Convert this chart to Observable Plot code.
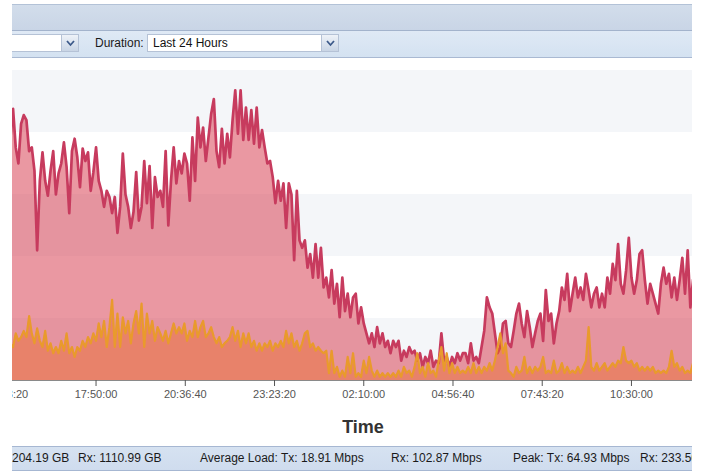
<!DOCTYPE html>
<html><head><meta charset="utf-8">
<script src="https://cdn.jsdelivr.net/npm/d3@7"></script>
<script src="https://cdn.jsdelivr.net/npm/@observablehq/plot@0.6"></script>
<style>
html,body{margin:0;padding:0;background:#fff;width:706px;height:473px;overflow:hidden;font-family:"Liberation Sans",Arial,sans-serif;}
#clip{position:absolute;left:12px;top:0;width:680px;height:473px;overflow:hidden;}
#page{position:absolute;left:-12px;top:0;width:706px;height:473px;}
#header{position:absolute;left:0;top:4px;width:706px;height:25px;background:linear-gradient(#d2ddeb,#c9d5e6);border-top:1px solid #b3c2d7;border-bottom:1px solid #a3b3cc;}
#toolbar{position:absolute;left:0;top:31px;width:706px;height:26px;background:linear-gradient(#dfe9f5,#d4e2f1);border-bottom:1px solid #a9b9d2;}
.combo{position:absolute;top:3px;height:18px;background:#fff;border:1px solid #b5c2d6;box-sizing:border-box;font-size:12px;line-height:16px;color:#111;padding-left:5px;}
.trig{position:absolute;top:3px;width:18px;height:18px;box-sizing:border-box;border:1px solid #b5c2d6;background:linear-gradient(#eef2f8,#c9d5e5);}
.trig svg{position:absolute;left:4px;top:5px;}
#dur{position:absolute;left:95px;top:3px;line-height:18px;font-size:12px;color:#1a1a1a;}
#chart{position:absolute;left:-100px;top:62px;}
#xlabel{position:absolute;left:0;width:726px;top:417px;text-align:center;font-weight:bold;font-size:18px;line-height:20px;color:#333;}
#status{position:absolute;left:0;top:446px;width:706px;height:23px;background:linear-gradient(#d6e2f1,#cfdcee);border-top:1px solid #a6b7d2;border-bottom:1px solid #a6b7d2;font-size:12px;color:#1a1a1a;}
#status span{position:absolute;top:0;line-height:23px;white-space:nowrap;}
</style></head>
<body>
<div id="clip"><div id="page">
  <div id="header"></div>
  <div id="toolbar">
    <div class="combo" style="left:0;width:62px;"></div>
    <div class="trig" style="left:61px;"><svg width="9" height="7"><polyline points="1,1 4.5,5 8,1" fill="none" stroke="#3c5a8a" stroke-width="1.8"/></svg></div>
    <div id="dur">Duration:</div>
    <div class="combo" style="left:147px;width:175px;">Last 24 Hours</div>
    <div class="trig" style="left:321px;"><svg width="9" height="7"><polyline points="1,1 4.5,5 8,1" fill="none" stroke="#3c5a8a" stroke-width="1.8"/></svg></div>
  </div>
  <div id="chart"></div>
  <div id="xlabel">Time</div>
  <div id="status">
    <span style="left:12px">204.19 GB</span>
    <span style="left:78px">Rx: 1110.99 GB</span>
    <span style="left:200px">Average Load: Tx: 18.91 Mbps</span>
    <span style="left:391px">Rx: 102.87 Mbps</span>
    <span style="left:513px">Peak: Tx: 64.93 Mbps</span>
    <span style="left:640px">Rx: 233.56 Mbps</span>
  </div>
</div></div>
<script>
// Sampling: 5-minute intervals starting 15:10:00 (day 1, UTC)
const startTime = Date.UTC(2013, 4, 14, 15, 10, 0);
const stepMs = 5 * 60 * 1000;

// Rx (Mbps)
const rxValues = [
195,219,188,175,207,214,210,185,188,169, 105,161,184,161,149,169,185,150,167,175,
192,172,135,185,195,180,156,187,177,184, 153,168,188,161,153,140,153,148,135,148,
119,140,183,150,140,123,136,168,129,140, 177,143,173,123,164,148,153,140,185,125,
161,188,159,177,167,183,175,145,196,161, 212,188,204,177,196,215,227,185,172,203,
175,199,180,210,
234,199,234,194,220,194,218,191,220,188, 202,188,175,177,164,143,161,145,159,123,
159,150,97,153,113,107,113,91,102,83, 110,83,107,75,83,67,89,62,78,51,
83,56,70,51,67,70,46,59,46,38, 30,38,27,43,30,38,27,32,22,32,
27,32,16,24,19,27,22,24,16,22, 11,19,14,24,11,16,14,38,16,19,
11,19,14,22,16,22,
22,14,30,16,19,14,27,40,67,59, 54,38,22,27,46,48,30,27,40,54,
62,46,35,56,43,27,38,48,54,32, 73,48,54,30,46,56,75,65,86,56,
70,83,67,75,65,86,73,59,70,75, 59,70,59,83,70,94,81,110,78,70,
89,115,83,70,81,102,105,81,62,78, 70,62,54,78,91,78,86,67,83,65,
81,99,70,105,59,81
];

// Tx (Mbps)
const txValues = [
30,27,38,32,35,40,35,52,38,30, 42,32,27,40,24,30,22,27,22,32,
24,38,22,27,19,27,24,32,27,35, 30,38,32,46,35,48,27,43,65,27,
54,27,51,38,48,30,46,56,38,62, 27,54,38,48,32,43,38,32,40,30,
38,46,38,43,38,46,32,40,35,48, 35,43,48,35,38,43,35,30,35,27,
30,32,35,43,
32,40,27,38,30,38,27,32,24,30, 24,30,27,32,24,30,27,32,27,40,
30,38,27,32,24,30,38,40,27,30, 24,27,24,22,24,6,24,6,11,3,
8,3,19,6,22,3,6,3,16,6, 19,8,3,8,3,6,3,6,3,6,
3,8,3,11,6,8,3,11,22,6, 11,3,14,6,8,3,16,27,8,22,
6,14,6,11,6,8,
6,11,6,14,6,11,6,11,8,14, 8,16,27,38,22,30,8,6,3,11,
6,8,19,6,11,6,11,8,11,19, 6,8,6,16,6,8,14,6,11,6,
8,6,11,6,11,16,43,11,8,14, 8,11,14,8,11,14,11,16,14,27,
16,14,16,11,14,8,11,8,11,8, 11,6,8,6,8,6,11,24,11,14,
8,11,6,8,6,14
];

// X tick labels (day 1 before midnight, day 2 after)
const tickLabels = ["15:03:20","17:50:00","20:36:40","23:23:20","02:10:00","04:56:40","07:43:20","10:30:00"];
// Horizontal band boundaries (Mbps)
const bandLo = [0, 100, 200];
const bandHi = [50, 150, 250];

const data = rxValues.map((v, i) => ({t: new Date(startTime + i * stepMs), rx: v, tx: txValues[i]}));
const tickTimes = tickLabels.map(s => {
  const [h, m, sec] = s.split(":").map(Number);
  return new Date(Date.UTC(2013, 4, h < 12 ? 15 : 14, h, m, sec));
});
const xDomain = [new Date(Date.UTC(2013,4,14,12,24,0)), new Date(Date.UTC(2013,4,15,12,24,0))];
const bands = bandLo.map((lo, i) => ({lo, hi: bandHi[i]}));

const chart = Plot.plot({
  width: 806, height: 350,
  marginLeft: 21, marginRight: 14, marginTop: 8, marginBottom: 32,
  style: {fontFamily: "Liberation Sans, Arial, sans-serif", fontSize: "11px", background: "transparent"},
  x: {type: "utc", domain: xDomain},
  y: {domain: [0, 250], axis: null},
  marks: [
    Plot.rect(bands, {x1: () => xDomain[0], x2: () => xDomain[1], y1: "lo", y2: "hi", fill: "#f4f6f9"}),
    Plot.areaY(data, {x: "t", y: "rx", fill: "#d84356", fillOpacity: 0.55}),
    Plot.lineY(data, {x: "t", y: "rx", stroke: "#c73b5e", strokeWidth: 2.7, strokeLinejoin: "round"}),
    Plot.areaY(data, {x: "t", y: "tx", fill: "#ec6a22", fillOpacity: 0.42}),
    Plot.lineY(data, {x: "t", y: "tx", stroke: "#e99a2c", strokeWidth: 2.2, strokeLinejoin: "round"}),
    Plot.ruleY([0], {stroke: "#8a8a8a"}),
    Plot.axisX({ticks: tickTimes, tickFormat: d3.utcFormat("%H:%M:%S"), tickSize: 6, tickPadding: 4, label: null, color: "#555"})
  ]
});
document.getElementById("chart").appendChild(chart);
</script>
</body></html>
